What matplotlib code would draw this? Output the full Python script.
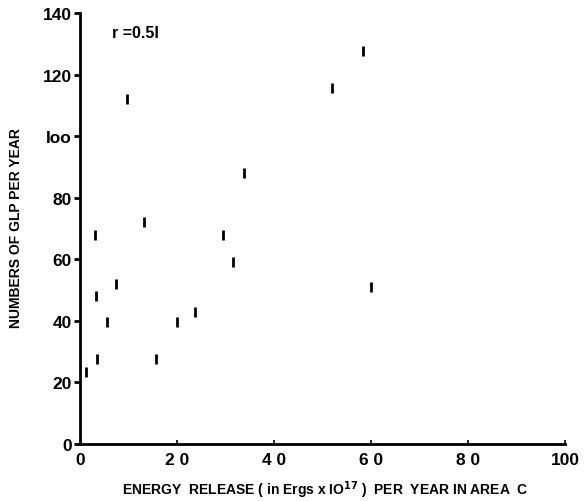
import matplotlib
matplotlib.use("Agg")
import matplotlib.pyplot as plt

plt.rcParams['font.family'] = ['Liberation Sans', 'DejaVu Sans']
plt.rcParams['font.weight'] = 'bold'

energy = [1.2, 3.0, 3.3, 3.5, 5.6, 7.4, 9.7, 13.2, 15.7, 20.0, 23.8, 29.5, 31.6, 33.9, 51.9, 58.3, 59.9]
glp    = [23.5, 68, 48, 27.7, 39.5, 52, 112, 72, 27.7, 39.5, 43, 68, 59, 88, 115.6, 127.7, 51]

xticks = [0, 20, 40, 60, 80, 100]
xticklabels = ['0', '2 0', '4 0', '6 0', '8 0', '100']
yticks = [0, 20, 40, 60, 80, 100, 120, 140]
yticklabels = ['0', '20', '40', '60', '80', 'Ioo', '120', '140']

fig = plt.figure(figsize=(5.85, 5.02), dpi=100)
ax = fig.add_axes([80/585, 1-445/502, 485/585, 431/502])

ax.plot(energy, glp, linestyle='none', marker='|', markersize=7,
        markeredgewidth=2.0, color='black')

ax.set_xlim(0, 100)
ax.set_ylim(0, 140)
ax.spines['top'].set_visible(False)
ax.spines['right'].set_visible(False)
ax.spines['left'].set_linewidth(2.0)
ax.spines['bottom'].set_linewidth(2.0)

ax.set_xticks(xticks)
ax.set_xticklabels(xticklabels, fontsize=12.5, fontweight='bold')
ax.set_yticks(yticks)
ax.set_yticklabels(yticklabels, fontsize=12.5, fontweight='bold')
ax.tick_params(axis='y', direction='out', length=4, width=2, pad=2)
ax.tick_params(axis='x', direction='in', length=3, width=1.2, pad=6)

ax.text(6.6, 133.7, 'r =0.5I', fontsize=11.5, fontweight='bold', va='center', ha='left')

fig.text(325/585, 1-490/502,
         r'ENERGY  RELEASE ( in Ergs x IO$^{\mathbf{17}}$ )  PER  YEAR IN AREA  C',
         ha='center', va='center', fontsize=10, fontweight='bold')
fig.text(16/585, 1-228/502, 'NUMBERS OF GLP PER YEAR', rotation=90,
         ha='center', va='center', fontsize=10, fontweight='bold')

fig.savefig('out.png', dpi=100)
